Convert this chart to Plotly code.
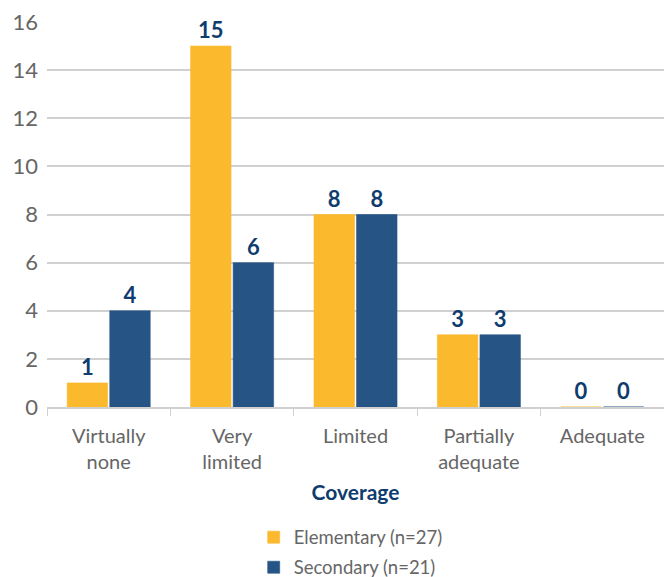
import plotly.graph_objects as go

categories = ["Virtually<br>none", "Very<br>limited", "Limited", "Partially<br>adequate", "Adequate"]
elementary = [1, 15, 8, 3, 0]
secondary = [4, 6, 8, 3, 0]
series_names = ["Elementary (n=27)", "Secondary (n=21)"]
y_ticks = [0, 2, 4, 6, 8, 10, 12, 14, 16]

YELLOW = "#FBB92E"
BLUE = "#265585"
NAVY = "#0F3C6E"
GREY_TEXT = "#666666"
FONT = "Lato"

fig = go.Figure()
for i, (name, vals, col) in enumerate([(series_names[0], elementary, YELLOW),
                                       (series_names[1], secondary, BLUE)]):
    fig.add_trace(go.Bar(
        x=categories, y=vals, name=name, legendgroup=f"g{i}",
        marker=dict(color=col, line=dict(color=col, width=0.6)),
        text=[str(v) for v in vals], textposition="outside",
        textfont=dict(family=FONT, size=22, color=NAVY, weight="bold"),
        cliponaxis=False,
    ))

fig.update_layout(
    width=664, height=577,
    margin=dict(l=47, r=0, t=22, b=170, autoexpand=False),
    plot_bgcolor="white", paper_bgcolor="white",
    barmode="group", bargap=0.31, bargroupgap=0.05,
    font=dict(family=FONT, color=GREY_TEXT, size=18),
    showlegend=True,
    legend=dict(x=0.335, y=-0.29, xanchor="left", yanchor="top",
                orientation="v", font=dict(family=FONT, size=18.5, color=GREY_TEXT),
                itemwidth=30, tracegroupgap=3),
)
fig.update_yaxes(range=[0, 16], tickvals=y_ticks, showgrid=True, gridcolor="#D0D0D0",
                 gridwidth=1.5, zeroline=False, showline=False,
                 tickfont=dict(family=FONT, size=22, color=GREY_TEXT), ticklabelstandoff=8)
fig.update_xaxes(showline=True, linecolor="#D0D0D0", linewidth=1.5,
                 ticks="outside", tickson="boundaries", ticklen=7, tickcolor="#D0D0D0",
                 ticklabelstandoff=10,
                 tickfont=dict(family=FONT, size=20, color=GREY_TEXT),
                 title=dict(text="Coverage", standoff=14,
                            font=dict(family=FONT, size=21, color=NAVY, weight="bold")))

fig.write_html("out.html")
